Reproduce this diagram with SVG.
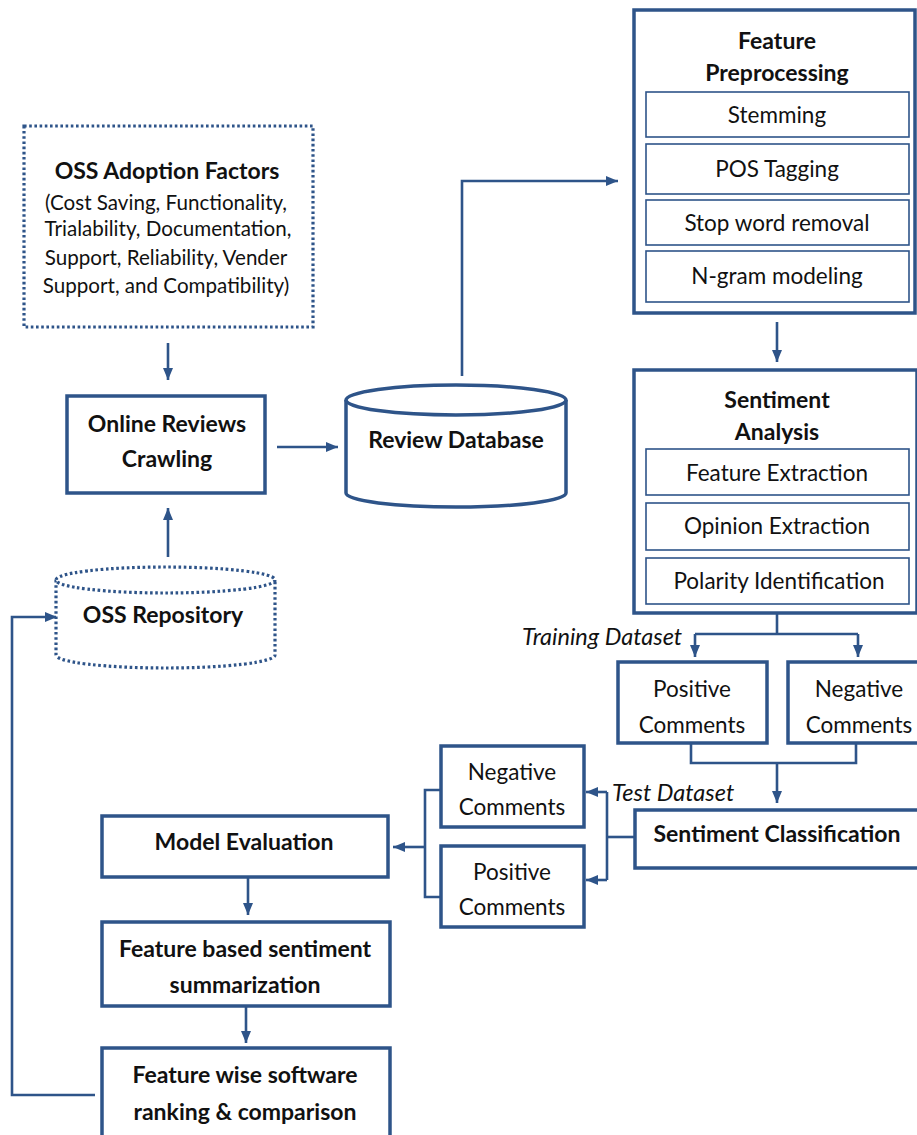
<svg xmlns="http://www.w3.org/2000/svg" width="917" height="1135" viewBox="0 0 917 1135">
<style>
.box{fill:#fff;stroke:#2E5489;stroke-width:3.5}
.inner{fill:#fff;stroke:#2E5489;stroke-width:1.6}
.dot{fill:#fff;stroke:#2E5489;stroke-width:3.2;stroke-dasharray:2.6 2.6}
.ln{fill:none;stroke:#2E5489;stroke-width:2.6}
.b{font-family:Lato,"Liberation Sans",sans-serif;font-weight:bold;font-size:23px;fill:#111;text-anchor:middle}
.r{font-family:Lato,"Liberation Sans",sans-serif;font-size:22.5px;fill:#111;text-anchor:middle}
.s{font-family:Lato,"Liberation Sans",sans-serif;font-size:20.6px;fill:#111;text-anchor:middle}
.i{font-family:Lato,"Liberation Sans",sans-serif;font-style:italic;font-size:23.5px;fill:#111}
</style>
<defs>
<marker id="ah" viewBox="0 0 12 10" refX="12" refY="5" markerWidth="12" markerHeight="10" markerUnits="userSpaceOnUse" orient="auto">
<path d="M0,0 L12,5 L0,10 z" fill="#2E5489"/>
</marker>
</defs>

<g id="connectors">
<path class="ln" d="M168,343 V380" marker-end="url(#ah)"/>
<path class="ln" d="M168,557 V508" marker-end="url(#ah)"/>
<path class="ln" d="M277,447 H338" marker-end="url(#ah)"/>
<path class="ln" d="M462,376 V181 H618" marker-end="url(#ah)"/>
<path class="ln" d="M777,322 V362" marker-end="url(#ah)"/>
<path class="ln" d="M777,614 V634"/>
<path class="ln" d="M695,634 H858"/>
<path class="ln" d="M695,634 V657" marker-end="url(#ah)"/>
<path class="ln" d="M858,634 V657" marker-end="url(#ah)"/>
<path class="ln" d="M691,743 V763 H856 V743"/>
<path class="ln" d="M777,763 V803" marker-end="url(#ah)"/>
<path class="ln" d="M635,837 H607"/>
<path class="ln" d="M607,792 V880"/>
<path class="ln" d="M607,792 H586" marker-end="url(#ah)"/>
<path class="ln" d="M607,880 H586" marker-end="url(#ah)"/>
<path class="ln" d="M441,790 H425 V897 H441"/>
<path class="ln" d="M425,847 H393" marker-end="url(#ah)"/>
<path class="ln" d="M248,877 V915" marker-end="url(#ah)"/>
<path class="ln" d="M246,1006 V1043" marker-end="url(#ah)"/>
<path class="ln" d="M95,1095 H12 V617 H57" marker-end="url(#ah)"/>
</g>

<g id="oss-adoption-factors">
<rect class="dot" x="24" y="126" width="289" height="201"/>
<text class="b" x="167" y="179">OSS Adoption Factors</text>
<text class="s" x="166" y="210">(Cost Saving, Functionality,</text>
<text class="s" x="168" y="236">Trialability,  Documentation,</text>
<text class="s" x="166" y="265">Support, Reliability, Vender</text>
<text class="s" x="166" y="293">Support, and Compatibility)</text>
</g>

<g id="online-reviews-crawling">
<rect class="box" x="67" y="396" width="198" height="97"/>
<text class="b" x="167" y="432">Online Reviews</text>
<text class="b" x="167" y="467">Crawling</text>
</g>

<g id="review-database">
<path class="box" d="M346,400 V493 A110,14 0 0 0 566,493 V400"/>
<ellipse class="box" cx="456" cy="400" rx="110" ry="15"/>
<text class="b" x="456" y="448">Review Database</text>
</g>

<g id="oss-repository">
<path class="dot" d="M56,580 V655 A109.5,13 0 0 0 275,655 V580"/>
<ellipse class="dot" cx="165.5" cy="580" rx="109.5" ry="13"/>
<text class="b" x="163" y="623">OSS Repository</text>
</g>

<g id="feature-preprocessing">
<rect class="box" x="634" y="10" width="281" height="303"/>
<text class="b" x="777" y="49">Feature</text>
<text class="b" x="777" y="81">Preprocessing</text>
<rect class="inner" x="646" y="92" width="263" height="45"/>
<text class="r" x="777" y="123">Stemming</text>
<rect class="inner" x="646" y="144" width="263" height="50"/>
<text class="r" x="777" y="177">POS Tagging</text>
<rect class="inner" x="646" y="200" width="263" height="45"/>
<text class="r" x="777" y="231">Stop word removal</text>
<rect class="inner" x="646" y="251" width="263" height="51"/>
<text class="r" x="777" y="284">N-gram modeling</text>
</g>

<g id="sentiment-analysis">
<rect class="box" x="634" y="370" width="283" height="243"/>
<text class="b" x="777" y="408">Sentiment</text>
<text class="b" x="777" y="440">Analysis</text>
<rect class="inner" x="646" y="449" width="263" height="46"/>
<text class="r" x="777" y="481">Feature Extraction</text>
<rect class="inner" x="646" y="503" width="263" height="47"/>
<text class="r" x="777" y="534">Opinion Extraction</text>
<rect class="inner" x="646" y="558" width="263" height="46"/>
<text class="r" x="779" y="589">Polarity Identification</text>
</g>

<g id="training-dataset-label">
<text class="i" x="522" y="645">Training Dataset</text>
</g>

<g id="positive-comments-train">
<rect class="box" x="618" y="662" width="149" height="81"/>
<text class="r" x="692" y="697">Positive</text>
<text class="r" x="692" y="733">Comments</text>
</g>

<g id="negative-comments-train">
<rect class="box" x="788" y="662" width="132" height="81"/>
<text class="r" x="859" y="697">Negative</text>
<text class="r" x="859" y="733">Comments</text>
</g>

<g id="test-dataset-label">
<text class="i" x="612" y="801">Test Dataset</text>
</g>

<g id="sentiment-classification">
<rect class="box" x="635" y="810" width="285" height="58"/>
<text class="b" x="777" y="842">Sentiment Classification</text>
</g>

<g id="negative-comments-test">
<rect class="box" x="441" y="746" width="143" height="81"/>
<text class="r" x="512" y="780">Negative</text>
<text class="r" x="512" y="815">Comments</text>
</g>

<g id="positive-comments-test">
<rect class="box" x="441" y="846" width="143" height="81"/>
<text class="r" x="512" y="880">Positive</text>
<text class="r" x="512" y="915">Comments</text>
</g>

<g id="model-evaluation">
<rect class="box" x="102" y="816" width="286" height="61"/>
<text class="b" x="244" y="850">Model Evaluation</text>
</g>

<g id="feature-based-summarization">
<rect class="box" x="102" y="922" width="288" height="84"/>
<text class="b" x="245" y="957">Feature based sentiment</text>
<text class="b" x="245" y="993">summarization</text>
</g>

<g id="feature-wise-ranking">
<rect class="box" x="102" y="1048" width="288" height="100"/>
<text class="b" x="245" y="1083">Feature wise software</text>
<text class="b" x="245" y="1120">ranking &amp; comparison</text>
</g>
</svg>
